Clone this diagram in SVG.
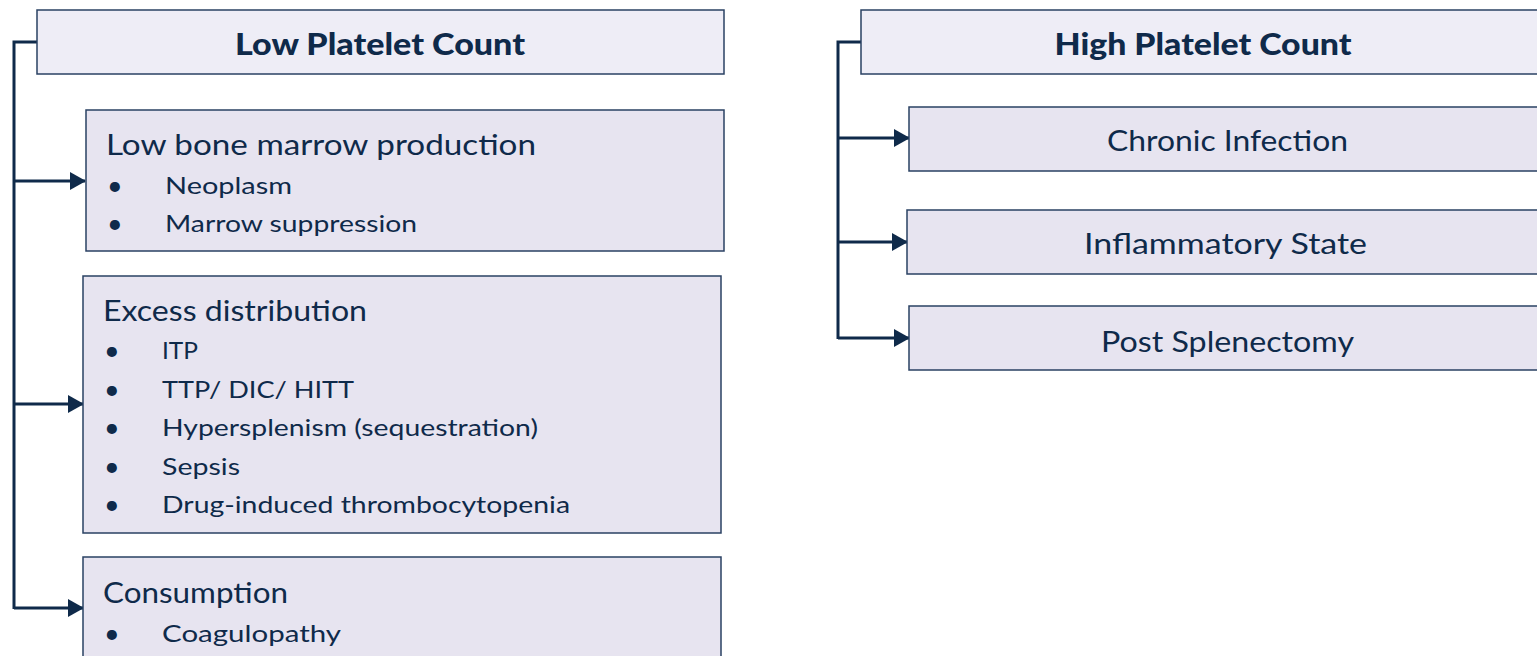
<svg xmlns="http://www.w3.org/2000/svg" width="1537" height="656" viewBox="0 0 1537 656">
<style>
.hdr{fill:#EEEDF6;stroke:#2A4163;stroke-width:1.5}
.box{fill:#E7E4F0;stroke:#2A4163;stroke-width:1.5}
.ht{font-family:"Lato","Open Sans",sans-serif;font-weight:900;font-size:31px;fill:#0F2A4A;text-anchor:middle}
.t{font-family:"Lato","Noto Sans",sans-serif;font-size:28px;fill:#0F2A4A}
.i{font-family:"Lato","Noto Sans",sans-serif;font-size:24px;fill:#0F2A4A}
.b{font-family:"Lato","Noto Sans",sans-serif;font-size:27px;fill:#0F2A4A}
.c{fill:none;stroke:#0F2A4A;stroke-width:3}
</style>
<defs>
<marker id="ah" markerWidth="16" markerHeight="18" refX="15" refY="9" orient="auto" markerUnits="userSpaceOnUse">
<path d="M0,0 L16,9 L0,18 Z" fill="#0F2A4A"/>
</marker>
</defs>
<g id="connectors">
<path class="c" d="M37,42 H14 V609"/>
<path class="c" d="M14,181 H85" marker-end="url(#ah)"/>
<path class="c" d="M14,404 H83" marker-end="url(#ah)"/>
<path class="c" d="M14,608 H83" marker-end="url(#ah)"/>
<path class="c" d="M861,42 H838 V339"/>
<path class="c" d="M838,138 H909" marker-end="url(#ah)"/>
<path class="c" d="M838,242 H907" marker-end="url(#ah)"/>
<path class="c" d="M838,338 H909" marker-end="url(#ah)"/>
</g>
<g id="low-header">
<rect class="hdr" x="37" y="10" width="687" height="64"/>
<text class="ht" x="380" y="55" textLength="290" lengthAdjust="spacingAndGlyphs">Low Platelet Count</text>
</g>
<g id="low-marrow">
<rect class="box" x="86" y="110" width="638" height="141"/>
<text class="t" x="106" y="155" textLength="430" lengthAdjust="spacingAndGlyphs">Low bone marrow production</text>
<text class="b" x="107" y="195">•</text>
<text class="i" x="165" y="194" textLength="127" lengthAdjust="spacingAndGlyphs">Neoplasm</text>
<text class="b" x="107" y="233">•</text>
<text class="i" x="165" y="232" textLength="252" lengthAdjust="spacingAndGlyphs">Marrow suppression</text>
</g>
<g id="excess-distribution">
<rect class="box" x="83" y="276" width="638" height="257"/>
<text class="t" x="103" y="321" textLength="264" lengthAdjust="spacingAndGlyphs">Excess distribution</text>
<text class="b" x="104" y="360">•</text>
<text class="i" x="162" y="359" textLength="36" lengthAdjust="spacingAndGlyphs">ITP</text>
<text class="b" x="104" y="399">•</text>
<text class="i" x="162" y="398" textLength="192" lengthAdjust="spacingAndGlyphs">TTP/ DIC/ HITT</text>
<text class="b" x="104" y="437">•</text>
<text class="i" x="162" y="436" textLength="376" lengthAdjust="spacingAndGlyphs">Hypersplenism (sequestration)</text>
<text class="b" x="104" y="476">•</text>
<text class="i" x="162" y="475" textLength="78" lengthAdjust="spacingAndGlyphs">Sepsis</text>
<text class="b" x="104" y="514">•</text>
<text class="i" x="162" y="513" textLength="408" lengthAdjust="spacingAndGlyphs">Drug-induced thrombocytopenia</text>
</g>
<g id="consumption">
<rect class="box" x="83" y="557" width="638" height="110"/>
<text class="t" x="103" y="603" textLength="185" lengthAdjust="spacingAndGlyphs">Consumption</text>
<text class="b" x="104" y="643">•</text>
<text class="i" x="162" y="642" textLength="179" lengthAdjust="spacingAndGlyphs">Coagulopathy</text>
</g>
<g id="high-header">
<rect class="hdr" x="861" y="10" width="690" height="64"/>
<text class="ht" x="1203" y="55" textLength="297" lengthAdjust="spacingAndGlyphs">High Platelet Count</text>
</g>
<g id="chronic-infection">
<rect class="box" x="909" y="107" width="640" height="64"/>
<text class="t" x="1107" y="151" textLength="241" lengthAdjust="spacingAndGlyphs">Chronic Infection</text>
</g>
<g id="inflammatory-state">
<rect class="box" x="907" y="210" width="640" height="64"/>
<text class="t" x="1084" y="254" textLength="283" lengthAdjust="spacingAndGlyphs">Inflammatory State</text>
</g>
<g id="post-splenectomy">
<rect class="box" x="909" y="306" width="640" height="64"/>
<text class="t" x="1101" y="352" textLength="253" lengthAdjust="spacingAndGlyphs">Post Splenectomy</text>
</g>
</svg>
